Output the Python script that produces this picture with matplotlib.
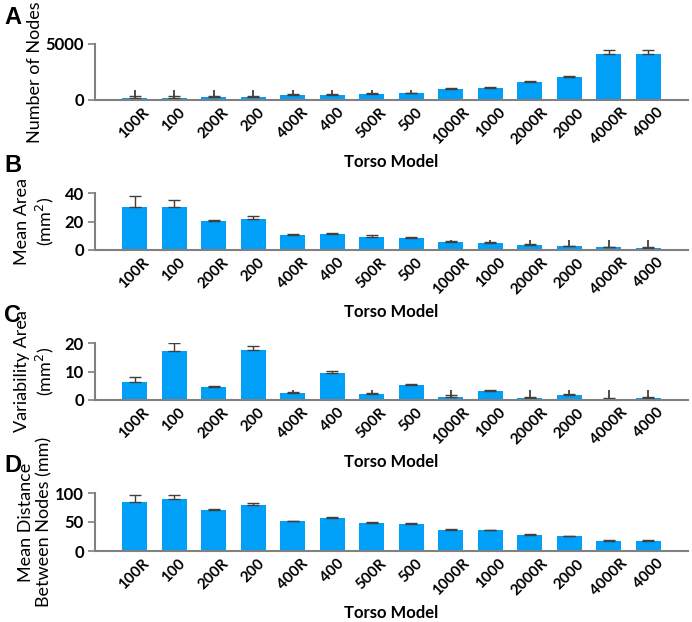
import matplotlib
matplotlib.use("Agg")
import matplotlib.pyplot as plt
import numpy as np

models = ['100R', '100', '200R', '200', '400R', '400', '500R', '500',
          '1000R', '1000', '2000R', '2000', '4000R', '4000']

num_nodes = [190, 190, 250, 250, 460, 450, 510, 590, 950, 1040, 1580, 2080, 4130, 4110]
num_nodes_err = [200, 180, 150, 150, 70, 80, 90, 50, 120, 120, 150, 90, 350, 340]

mean_area = [30, 30, 20.5, 21.6, 10.4, 11.3, 9.2, 8.2, 5.4, 4.7, 3.3, 2.6, 1.9, 1.6]
mean_area_err = [8, 5, 0.5, 2.2, 0.5, 0.9, 1.2, 0.8, 0.9, 0.7, 0.9, 0.4, 0.3, 0.3]

var_area = [6.4, 17.1, 4.7, 17.4, 2.6, 9.5, 2.1, 5.4, 1.2, 3.0, 0.8, 1.7, 0.5, 0.8]
var_area_err = [1.5, 3.0, 0.25, 1.6, 0.25, 0.8, 0.3, 0.35, 0.4, 0.45, 0.2, 0.3, 0.2, 0.2]

mean_dist = [84, 89.5, 71, 79.5, 51, 57.5, 47.5, 46.5, 35.5, 35.5, 28, 26.2, 18, 18]
mean_dist_err = [13, 7, 1, 4, 1, 1.7, 2.3, 1.2, 2.9, 1.1, 1.1, 0.5, 1.2, 0.6]

panels = [
    ('A', 'Number of Nodes', num_nodes, num_nodes_err, [0, 5000]),
    ('B', 'Mean Area\n(mm$^{2}$)', mean_area, mean_area_err, [0, 20, 40]),
    ('C', 'Variability Area\n(mm$^{2}$)', var_area, var_area_err, [0, 10, 20]),
    ('D', 'Mean Distance\nBetween Nodes (mm)', mean_dist, mean_dist_err, [0, 50, 100]),
]

W, H = 692, 622
fig = plt.figure(figsize=(W / 100, H / 100), dpi=100)
plt.rcParams['font.family'] = ['Lato', 'DejaVu Sans']

bar_color = '#00A0F8'
spine_color = '#808080'
x = np.arange(len(models))

# pixel geometry of each panel (top, bottom)
rows = [(44, 100), (193, 250), (343, 400), (493, 551)]
left_px, right_px = 95, 688

for (letter, ylab, vals, errs, yt), (top, bot) in zip(panels, rows):
    ax = fig.add_axes([left_px / W, 1 - bot / H, (right_px - left_px) / W, (bot - top) / H])
    ax.bar(x, vals, width=0.63, color=bar_color, zorder=2)
    ax.errorbar(x, vals, yerr=[np.zeros(len(vals)), errs], fmt='none',
                ecolor='#404040', elinewidth=1, capsize=4, capthick=1, zorder=3)
    ax.set_xlim(-1, 14)
    ax.set_ylim(yt[0], yt[-1])
    ax.set_yticks(yt)
    ax.set_yticklabels([str(v) for v in yt], fontsize=12, fontweight='bold')
    ax.set_xticks(x)
    ax.set_xticklabels(models, rotation=45, fontsize=11, fontweight='bold', ha='center')
    ax.tick_params(axis='x', direction='in', length=7, width=1.2, color='#303030', pad=4)
    ax.tick_params(axis='y', direction='out', length=5, width=1.2, color=spine_color, pad=3)
    for s in ['top', 'right']:
        ax.spines[s].set_visible(False)
    for s in ['left', 'bottom']:
        ax.spines[s].set_color(spine_color)
        ax.spines[s].set_linewidth(1.5)
    ax.spines['bottom'].set_zorder(4)
    for t in ax.get_xticklines():
        t.set_zorder(5)

    mid = (top + bot) / 2
    fig.text(35 / W, 1 - mid / H, ylab, rotation=90, ha='center', va='center',
             multialignment='center', fontsize=13)
    fig.text(4 / W, 1 - (top - 27) / H, letter, fontsize=17, fontweight='bold',
             family='Liberation Sans', ha='left', va='center')
    fig.text((left_px + right_px) / 2 / W, 1 - (bot + 62) / H, 'Torso Model',
             fontsize=12, fontweight='bold', ha='center', va='center')

fig.savefig('out.png', dpi=100)
